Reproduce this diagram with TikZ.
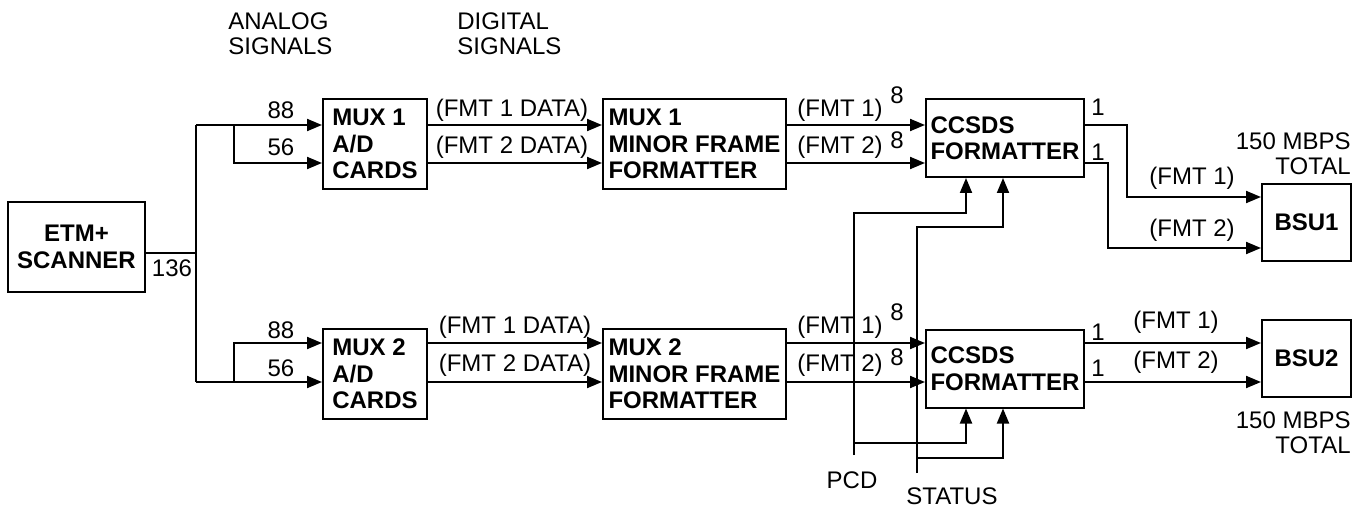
\documentclass[tikz,border=0pt]{standalone}
\usepackage{fontspec}
\setmainfont{Liberation Sans}
\usetikzlibrary{arrows.meta}

\begin{document}
\begin{tikzpicture}[x=0.5pt,y=-0.5pt,
    font=\fontsize{12}{12.5}\selectfont,
    blk/.style={draw,line width=1pt,align=left,inner sep=0pt,
                font=\fontsize{12}{13.25}\selectfont\bfseries},
    wire/.style={line width=1pt},
    arr/.style={line width=1pt,-{Triangle[length=7.5pt,width=6pt]}}]
  \useasboundingbox (0,0) rectangle (1361,508);
  \node[blk,align=center,minimum width=68.5pt,minimum height=45pt] (etm) at (76.5,247) {ETM+\\SCANNER};
  \node[blk,minimum width=52pt,minimum height=45pt] (ad1) at (375,144) {MUX 1\\A/D\\CARDS};
  \node[blk,minimum width=52pt,minimum height=45pt] (ad2) at (375,374) {MUX 2\\A/D\\CARDS};
  \node[blk,minimum width=91.5pt,minimum height=45pt] (mf1) at (694.5,144) {MUX 1\\MINOR FRAME\\FORMATTER};
  \node[blk,minimum width=91.5pt,minimum height=45pt] (mf2) at (694.5,374) {MUX 2\\MINOR FRAME\\FORMATTER};
  \node[blk,minimum width=79pt,minimum height=39pt] (cc1) at (1005,138) {CCSDS\\FORMATTER};
  \node[blk,minimum width=79pt,minimum height=39pt] (cc2) at (1005,368.5) {CCSDS\\FORMATTER};
  \node[blk,minimum width=44.5pt,minimum height=38.5pt] (bsu1) at (1306.5,222.5) {BSU1};
  \node[blk,minimum width=44.5pt,minimum height=38.5pt] (bsu2) at (1306.5,358) {BSU2};

  \coordinate (j0) at (196,253);
  \coordinate (ja) at (196,125);
  \coordinate (jb) at (196,382);
  \coordinate (sa) at (234,163);
  \coordinate (sb) at (234,343);
  \draw[wire] (etm.east |- j0) -- (j0);
  \draw[wire] (ja) -- (jb);
  \draw[arr] (ja) -- (ja -| ad1.west);
  \draw[arr] (sa |- ja) |- (ad1.west |- sa);
  \draw[arr] (jb) -- (jb -| ad2.west);
  \draw[arr] (sb |- jb) |- (ad2.west |- sb);
  \foreach \a/\b in {ad1/mf1, mf1/cc1} {
      \draw[arr] (\a.east |- ja) -- (\b.west |- ja);
      \draw[arr] (\a.east |- sa) -- (\b.west |- sa);
  }
  \foreach \a/\b in {ad2/mf2, mf2/cc2} {
      \draw[arr] (\a.east |- sb) -- (\b.west |- sb);
      \draw[arr] (\a.east |- jb) -- (\b.west |- jb);
  }

  \coordinate (o1) at (1127,197);
  \coordinate (o2) at (1108,248);
  \draw[arr] (cc1.east |- ja) -| (o1) -- (o1 -| bsu1.west);
  \draw[arr] (cc1.east |- sa) -| (o2) -- (o2 -| bsu1.west);
  \draw[arr] (cc2.east |- sb) -- (bsu2.west |- sb);
  \draw[arr] (cc2.east |- jb) -- (bsu2.west |- jb);

  \coordinate (pcd) at (854,455);
  \coordinate (p1) at (966,213);
  \coordinate (p2) at (966,443);
  \draw[arr] (pcd) |- (p1) -- (p1 |- cc1.south);
  \draw[arr] (pcd |- p2) -- (p2) -- (p2 |- cc2.south);
  \coordinate (sts) at (917,473);
  \coordinate (s1) at (1003,227);
  \coordinate (s2) at (1003,458);
  \draw[arr] (sts) |- (s1) -- (s1 |- cc1.south);
  \draw[arr] (sts |- s2) -- (s2) -- (s2 |- cc2.south);

  \node (n136) at (172,268) {136};
  \node (a88) at (281,110) {88};
  \node (a56) at (281,147) {56};
  \node (b88) at (281,330) {88};
  \node (b56) at (281,368) {56};
  \node (ad1f1) at (512,110) {(FMT 1 DATA)};
  \node (ad1f2) at (512,147) {(FMT 2 DATA)};
  \node (ad2f1) at (515,327) {(FMT 1 DATA)};
  \node (ad2f2) at (515,365) {(FMT 2 DATA)};
  \node (mf1f1) at (840,110) {(FMT 1)};
  \node (mf1f2) at (840,147) {(FMT 2)};
  \node (mf2f1) at (840,327) {(FMT 1)};
  \node (mf2f2) at (840,365) {(FMT 2)};
  \node (e1) at (897,95) {8};
  \node (e2) at (897,140) {8};
  \node (e3) at (897,312) {8};
  \node (e4) at (897,357) {8};
  \node (u1) at (1098,107) {1};
  \node (u2) at (1098,152) {1};
  \node (u3) at (1098,332) {1};
  \node (u4) at (1098,368) {1};
  \node (cc1f1) at (1192,178) {(FMT 1)};
  \node (cc1f2) at (1192,230) {(FMT 2)};
  \node (cc2f1) at (1176,322) {(FMT 1)};
  \node (cc2f2) at (1176,362) {(FMT 2)};
  \node[align=right,anchor=east,inner sep=0pt] (rate1) at (1351,154) {150 MBPS\\TOTAL};
  \node[align=right,anchor=east,inner sep=0pt] (rate2) at (1351,433) {150 MBPS\\TOTAL};
  \node[align=left,anchor=west,inner sep=0pt] (ana) at (228,33.5) {ANALOG\\SIGNALS};
  \node[align=left,anchor=west,inner sep=0pt] (dig) at (457,33.5) {DIGITAL\\SIGNALS};
  \node (pcdl) at (852,480) {PCD};
  \node[inner sep=0pt] (stsl) at (952,496) {STATUS};
\end{tikzpicture}
\end{document}
